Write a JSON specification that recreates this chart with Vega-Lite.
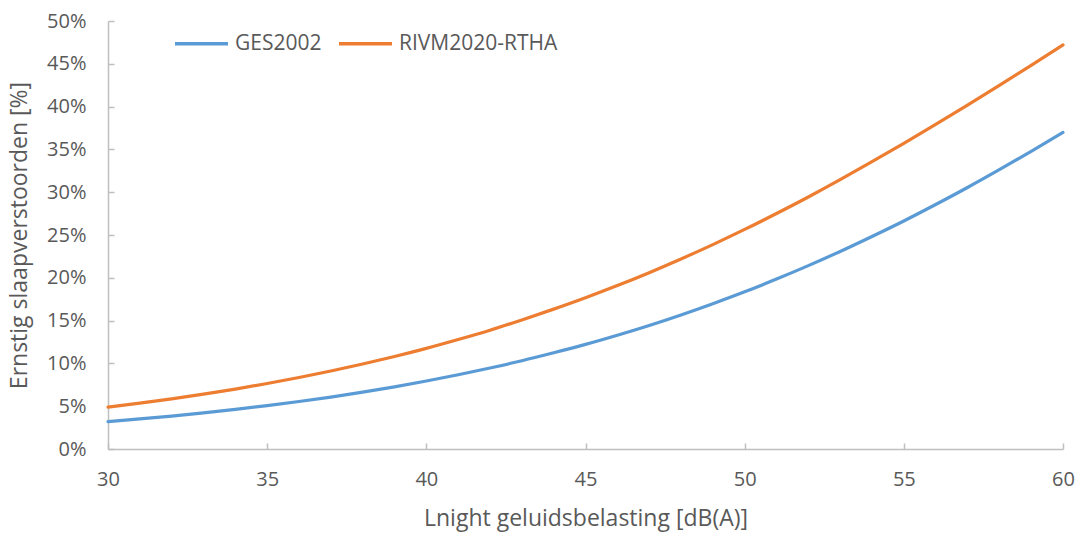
{
  "$schema": "https://vega.github.io/schema/vega-lite/v6.json",
  "width": 955,
  "height": 428,
  "autosize": {"type": "none"},
  "padding": {"left": 108, "top": 21, "right": 18, "bottom": 85},
  "background": "white",
  "config": {
    "view": {"stroke": null},
    "font": "Open Sans",
    "axis": {
      "grid": false,
      "domainColor": "#bfbfbf",
      "domainWidth": 1.5,
      "tickColor": "#bfbfbf",
      "tickWidth": 1.5,
      "labelColor": "#595959",
      "titleColor": "#595959",
      "labelFont": "Open Sans",
      "titleFont": "Open Sans",
      "labelFontSize": 20,
      "titleFontSize": 23,
      "titleFontWeight": "normal"
    }
  },
  "data": {
    "values": [
      {"L": 30, "s": "GES2002", "p": 0.0320}, {"L": 31, "s": "GES2002", "p": 0.0351}, {"L": 32, "s": "GES2002", "p": 0.0385},
      {"L": 33, "s": "GES2002", "p": 0.0422}, {"L": 34, "s": "GES2002", "p": 0.0463}, {"L": 35, "s": "GES2002", "p": 0.0507},
      {"L": 36, "s": "GES2002", "p": 0.0555}, {"L": 37, "s": "GES2002", "p": 0.0607}, {"L": 38, "s": "GES2002", "p": 0.0664},
      {"L": 39, "s": "GES2002", "p": 0.0726}, {"L": 40, "s": "GES2002", "p": 0.0794}, {"L": 41, "s": "GES2002", "p": 0.0867},
      {"L": 42, "s": "GES2002", "p": 0.0946}, {"L": 43, "s": "GES2002", "p": 0.1031}, {"L": 44, "s": "GES2002", "p": 0.1124},
      {"L": 45, "s": "GES2002", "p": 0.1222}, {"L": 46, "s": "GES2002", "p": 0.1329}, {"L": 47, "s": "GES2002", "p": 0.1443},
      {"L": 48, "s": "GES2002", "p": 0.1566}, {"L": 49, "s": "GES2002", "p": 0.1697}, {"L": 50, "s": "GES2002", "p": 0.1836},
      {"L": 51, "s": "GES2002", "p": 0.1985}, {"L": 52, "s": "GES2002", "p": 0.2142}, {"L": 53, "s": "GES2002", "p": 0.2308},
      {"L": 54, "s": "GES2002", "p": 0.2483}, {"L": 55, "s": "GES2002", "p": 0.2664}, {"L": 56, "s": "GES2002", "p": 0.2856},
      {"L": 57, "s": "GES2002", "p": 0.3055}, {"L": 58, "s": "GES2002", "p": 0.3263}, {"L": 59, "s": "GES2002", "p": 0.3477},
      {"L": 60, "s": "GES2002", "p": 0.3698},
      {"L": 30, "s": "RIVM2020-RTHA", "p": 0.0490}, {"L": 31, "s": "RIVM2020-RTHA", "p": 0.0536}, {"L": 32, "s": "RIVM2020-RTHA", "p": 0.0586},
      {"L": 33, "s": "RIVM2020-RTHA", "p": 0.0641}, {"L": 34, "s": "RIVM2020-RTHA", "p": 0.0700}, {"L": 35, "s": "RIVM2020-RTHA", "p": 0.0765},
      {"L": 36, "s": "RIVM2020-RTHA", "p": 0.0835}, {"L": 37, "s": "RIVM2020-RTHA", "p": 0.0911}, {"L": 38, "s": "RIVM2020-RTHA", "p": 0.0993},
      {"L": 39, "s": "RIVM2020-RTHA", "p": 0.1081}, {"L": 40, "s": "RIVM2020-RTHA", "p": 0.1176}, {"L": 41, "s": "RIVM2020-RTHA", "p": 0.1279},
      {"L": 42, "s": "RIVM2020-RTHA", "p": 0.1388}, {"L": 43, "s": "RIVM2020-RTHA", "p": 0.1508}, {"L": 44, "s": "RIVM2020-RTHA", "p": 0.1634},
      {"L": 45, "s": "RIVM2020-RTHA", "p": 0.1767}, {"L": 46, "s": "RIVM2020-RTHA", "p": 0.1909}, {"L": 47, "s": "RIVM2020-RTHA", "p": 0.2060},
      {"L": 48, "s": "RIVM2020-RTHA", "p": 0.2220}, {"L": 49, "s": "RIVM2020-RTHA", "p": 0.2388}, {"L": 50, "s": "RIVM2020-RTHA", "p": 0.2565},
      {"L": 51, "s": "RIVM2020-RTHA", "p": 0.2751}, {"L": 52, "s": "RIVM2020-RTHA", "p": 0.2944}, {"L": 53, "s": "RIVM2020-RTHA", "p": 0.3146},
      {"L": 54, "s": "RIVM2020-RTHA", "p": 0.3356}, {"L": 55, "s": "RIVM2020-RTHA", "p": 0.3571}, {"L": 56, "s": "RIVM2020-RTHA", "p": 0.3792},
      {"L": 57, "s": "RIVM2020-RTHA", "p": 0.4018}, {"L": 58, "s": "RIVM2020-RTHA", "p": 0.4248}, {"L": 59, "s": "RIVM2020-RTHA", "p": 0.4482},
      {"L": 60, "s": "RIVM2020-RTHA", "p": 0.4720}
    ]
  },
  "mark": {"type": "line", "strokeWidth": 3.2, "interpolate": "monotone", "strokeCap": "round"},
  "encoding": {
    "x": {
      "field": "L", "type": "quantitative",
      "scale": {"domain": [30, 60], "nice": false, "zero": false},
      "axis": {"values": [30, 35, 40, 45, 50, 55, 60], "title": "Lnight geluidsbelasting [dB(A)]", "tickSize": -6, "labelPadding": 26, "titlePadding": 18, "labelFlush": false}
    },
    "y": {
      "field": "p", "type": "quantitative",
      "scale": {"domain": [0, 0.5], "nice": false},
      "axis": {"values": [0, 0.05, 0.1, 0.15, 0.2, 0.25, 0.3, 0.35, 0.4, 0.45, 0.5], "format": ".0%", "title": "Ernstig slaapverstoorden [%]", "tickSize": -6, "labelPadding": 28, "titlePadding": 15}
    },
    "color": {
      "field": "s", "type": "nominal",
      "scale": {"domain": ["GES2002", "RIVM2020-RTHA"], "range": ["#5b9bd5", "#ed7d31"]},
      "legend": {
        "title": null, "orient": "none", "direction": "horizontal",
        "legendX": 65, "legendY": -6,
        "symbolType": "stroke", "symbolSize": 2809, "symbolStrokeWidth": 3.5,
        "labelFontSize": 21, "labelColor": "#595959", "labelFont": "Open Sans",
        "labelOffset": 5, "columnPadding": 10, "padding": 0
      }
    }
  }
}
